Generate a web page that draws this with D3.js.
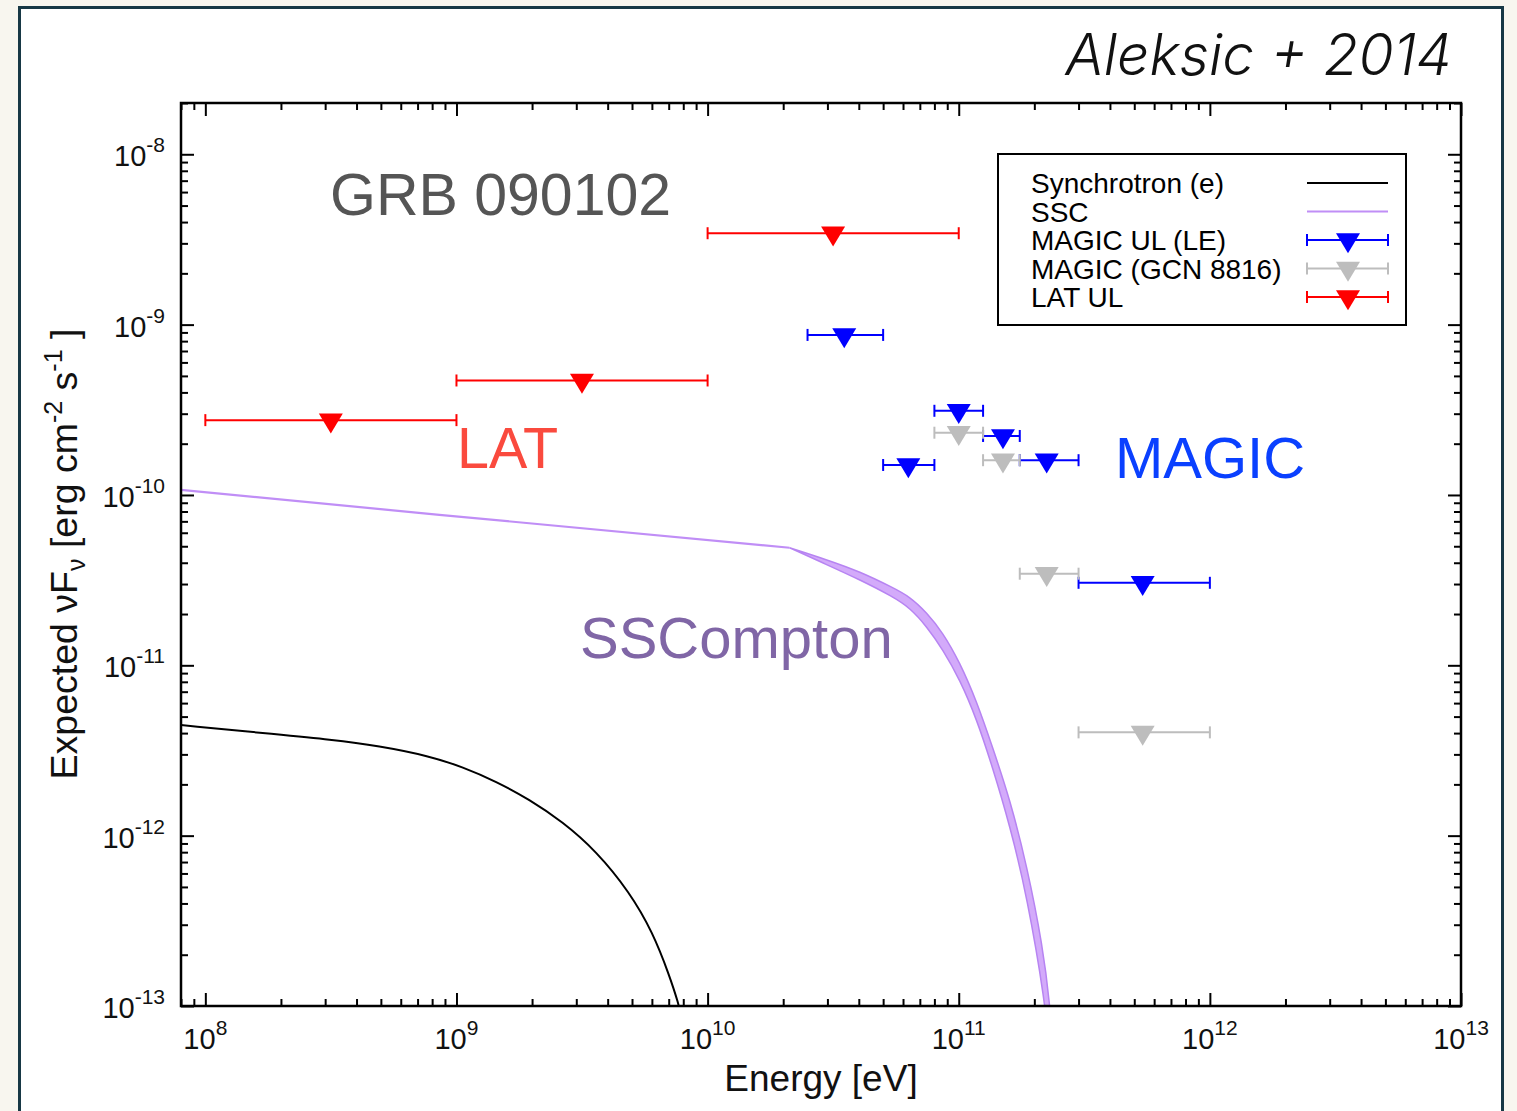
<!DOCTYPE html>
<html>
<head>
<meta charset="utf-8">
<script src="https://cdn.jsdelivr.net/npm/d3@7"></script>
<style>
  html, body { margin: 0; padding: 0; background: #f8f6ef; }
  svg { display: block; }
  text { font-family: "Liberation Sans", Arial, Helvetica, sans-serif; }
</style>
</head>
<body>
<svg id="chart" width="1517" height="1111"></svg>
<script>
const W = 1517, H = 1111;

// axis ranges
const xDomain = [8e7, 1e13];
const yDomain = [1e-13, 2e-8];
const xDecades = [8, 9, 10, 11, 12, 13];
const yDecades = [-8, -9, -10, -11, -12, -13];

// Synchrotron (e) model curve [E (eV), nuFnu]
const synchrotron = [
  [8e7, 4.46e-12], [1.97e8, 3.92e-12], [3.12e8, 3.67e-12], [4.93e8, 3.36e-12],
  [7.8e8, 2.93e-12], [1.06e9, 2.53e-12], [1.44e9, 2.08e-12], [1.95e9, 1.63e-12],
  [2.64e9, 1.21e-12], [3.61e9, 8.1e-13], [4.89e9, 4.66e-13], [6.04e9, 2.72e-13],
  [7.06e9, 1.5e-13], [7.66e9, 1.03e-13], [7.8e9, 9e-14]
];

// SSC: power law part, then the band (upper / lower edge)
const sscLow = [[8e7, 1.07e-10], [8.55e8, 7.65e-11], [2.12e10, 4.9e-11]];
const sscUpper = [
  [2.12e10, 4.9e-11], [2.98e10, 4.17e-11], [4.04e10, 3.55e-11], [5.46e10, 2.86e-11],
  [6.38e10, 2.53e-11], [7.46e10, 2.04e-11], [8.63e10, 1.56e-11], [1.01e11, 1.04e-11],
  [1.18e11, 6.12e-12], [1.36e11, 3.34e-12], [1.60e11, 1.63e-12], [1.87e11, 6.62e-13],
  [2.16e11, 2.25e-13], [2.31e11, 1.0e-13], [2.36e11, 6e-14]
];
const sscLower = [
  [2.12e10, 4.9e-11], [2.98e10, 3.9e-11], [4.04e10, 3.18e-11], [5.46e10, 2.53e-11],
  [6.38e10, 2.18e-11], [7.46e10, 1.69e-11], [8.63e10, 1.24e-11], [1.01e11, 8.26e-12],
  [1.18e11, 4.81e-12], [1.36e11, 2.55e-12], [1.60e11, 1.14e-12], [1.87e11, 4.42e-13],
  [2.22e11, 1.0e-13], [2.27e11, 6e-14]
];

// upper limits: e = marker energy, lo/hi = energy bin, f = flux
const magicLE = [
  {e: 3.5e10, lo: 2.5e10, hi: 5e10, f: 8.7e-10},
  {e: 6.3e10, lo: 5e10, hi: 8e10, f: 1.5e-10},
  {e: 1e11, lo: 8e10, hi: 1.25e11, f: 3.12e-10},
  {e: 1.5e11, lo: 1.25e11, hi: 1.75e11, f: 2.22e-10},
  {e: 2.24e11, lo: 1.75e11, hi: 3e11, f: 1.6e-10},
  {e: 5.4e11, lo: 3e11, hi: 1e12, f: 3.05e-11}
];
const magicGCN = [
  {e: 1e11, lo: 8e10, hi: 1.25e11, f: 2.32e-10},
  {e: 1.5e11, lo: 1.25e11, hi: 1.75e11, f: 1.6e-10},
  {e: 2.24e11, lo: 1.75e11, hi: 3e11, f: 3.45e-11},
  {e: 5.4e11, lo: 3e11, hi: 1e12, f: 4.04e-12}
];
const latUL = [
  {e: 3.16e8, lo: 1e8, hi: 1e9, f: 2.75e-10},
  {e: 3.16e9, lo: 1e9, hi: 1e10, f: 4.7e-10},
  {e: 3.16e10, lo: 1e10, hi: 1e11, f: 3.44e-9}
];

const legendLabels = ["Synchrotron (e)", "SSC", "MAGIC UL (LE)", "MAGIC (GCN 8816)", "LAT UL"];

const colSync = "#000000", colSSC = "#c08ef6", colBand = "#d3aafa", colBandEdge = "#b784f2";
const colBlue = "#0000ff", colGrey = "#bdbdbd", colRed = "#ff0000";

const pLeft = 181, pRight = 1461, pTop = 103, pBottom = 1006;

const x = d3.scaleLog().domain(xDomain).range([pLeft, pRight]);
const y = d3.scaleLog().domain(yDomain).range([pBottom, pTop]);

const svg = d3.select("#chart");

// card background
svg.append("rect").attr("width", W).attr("height", H).attr("fill", "#f8f6ef");
svg.append("rect")
  .attr("x", 19.5).attr("y", 7.5).attr("width", 1483).attr("height", 1120)
  .attr("fill", "#ffffff").attr("stroke", "#173845").attr("stroke-width", 3);

svg.append("defs").append("clipPath").attr("id", "plotclip")
  .append("rect").attr("x", pLeft).attr("y", pTop).attr("width", pRight - pLeft).attr("height", pBottom - pTop);

// ticks (inward, mirrored)
let majorX = xDecades.map(d => Math.pow(10, d));
let minorX = [];
for (let d = 7; d < 13; d++) for (let m = 2; m <= 9; m++) {
  let v = m * Math.pow(10, d);
  if (v >= xDomain[0] && v <= xDomain[1]) minorX.push(v);
}
let majorY = yDecades.map(d => Math.pow(10, d));
let minorY = [];
for (let d = -13; d < -8; d++) for (let m = 2; m <= 9; m++) minorY.push(m * Math.pow(10, d));
minorY.push(2e-8);

function tickAxis(axisFn, scale, vals, len, tx, ty) {
  let g = svg.append("g").attr("transform", "translate(" + tx + "," + ty + ")")
    .call(axisFn(scale).tickValues(vals).tickSize(len).tickFormat(""));
  g.select(".domain").remove();
  g.selectAll("line").attr("stroke", "#000").attr("stroke-width", 2);
}
tickAxis(d3.axisBottom, x, majorX, -13, 0, pBottom);
tickAxis(d3.axisBottom, x, minorX, -7, 0, pBottom);
tickAxis(d3.axisTop, x, majorX, -13, 0, pTop);
tickAxis(d3.axisTop, x, minorX, -7, 0, pTop);
tickAxis(d3.axisLeft, y, majorY, -13, pLeft, 0);
tickAxis(d3.axisLeft, y, minorY, -7, pLeft, 0);
tickAxis(d3.axisRight, y, majorY, -13, pRight, 0);
tickAxis(d3.axisRight, y, minorY, -7, pRight, 0);

// tick labels 10^n
xDecades.forEach(function(d) {
  let t = svg.append("text").attr("x", x(Math.pow(10, d))).attr("y", pBottom + 43)
    .attr("text-anchor", "middle").attr("font-size", 29).attr("fill", "#111");
  t.append("tspan").text("10");
  t.append("tspan").attr("dy", -14).attr("font-size", 21).text(d);
});
yDecades.forEach(function(d) {
  let t = svg.append("text").attr("x", 165).attr("y", y(Math.pow(10, d)) + 12)
    .attr("text-anchor", "end").attr("font-size", 29).attr("fill", "#111");
  t.append("tspan").text("10");
  t.append("tspan").attr("dy", -14).attr("font-size", 21).text(d);
});

// axis titles
svg.append("text").attr("x", 821).attr("y", 1091).attr("text-anchor", "middle")
  .attr("font-size", 37).attr("fill", "#111").text("Energy [eV]");

let yl = svg.append("text").attr("transform", "translate(77,554) rotate(-90)")
  .attr("text-anchor", "middle").attr("font-size", 37.5).attr("fill", "#111");
yl.append("tspan").text("Expected \u03bdF");
yl.append("tspan").attr("dy", 8).attr("font-size", 25).text("\u03bd");
yl.append("tspan").attr("dy", -8).text(" [erg cm");
yl.append("tspan").attr("dy", -15).attr("font-size", 25).text("-2");
yl.append("tspan").attr("dy", 15).text(" s");
yl.append("tspan").attr("dy", -15).attr("font-size", 25).text("-1");
yl.append("tspan").attr("dy", 15).text(" ]");

// curves
const plot = svg.append("g").attr("clip-path", "url(#plotclip)");
const line = d3.line().x(d => x(d[0])).y(d => y(d[1])).curve(d3.curveBasis);
const straight = d3.line().x(d => x(d[0])).y(d => y(d[1]));

plot.append("path").attr("d", line(synchrotron))
  .attr("fill", "none").attr("stroke", colSync).attr("stroke-width", 2);

plot.append("path").attr("d", straight(sscLow))
  .attr("fill", "none").attr("stroke", colSSC).attr("stroke-width", 2.2);

let bandPath = line(sscUpper) + "L" + line(sscLower.slice().reverse()).slice(1) + "Z";
plot.append("path").attr("d", bandPath)
  .attr("fill", colBand).attr("stroke", colBandEdge).attr("stroke-width", 1.5);

// upper-limit markers
const tri = "M-12,-6.7L12,-6.7L0,13.3Z";

function drawUL(data, col) {
  let g = plot.append("g");
  data.forEach(function(d) {
    let cy = y(d.f), x0 = x(d.lo), x1 = x(d.hi);
    g.append("line").attr("x1", x0).attr("x2", x1).attr("y1", cy).attr("y2", cy)
      .attr("stroke", col).attr("stroke-width", 2);
    [x0, x1].forEach(function(cx) {
      g.append("line").attr("x1", cx).attr("x2", cx).attr("y1", cy - 6).attr("y2", cy + 6)
        .attr("stroke", col).attr("stroke-width", 2);
    });
    g.append("path").attr("d", tri).attr("transform", "translate(" + x(d.e) + "," + cy + ")")
      .attr("fill", col);
  });
}
drawUL(magicLE, colBlue);
drawUL(magicGCN, colGrey);
drawUL(latUL, colRed);

// plot frame
svg.append("rect").attr("x", pLeft).attr("y", pTop).attr("width", pRight - pLeft).attr("height", pBottom - pTop)
  .attr("fill", "none").attr("stroke", "#000").attr("stroke-width", 2.5);

// legend
const lg = svg.append("g");
lg.append("rect").attr("x", 998).attr("y", 154).attr("width", 408).attr("height", 171)
  .attr("fill", "#fff").attr("stroke", "#000").attr("stroke-width", 2);
legendLabels.forEach(function(lab, i) {
  let by = 193 + i * 28.5, cy = by - 10;
  lg.append("text").attr("x", 1031).attr("y", by).attr("font-size", 28).attr("fill", "#000").text(lab);
  if (i < 2) {
    lg.append("line").attr("x1", 1307).attr("x2", 1388).attr("y1", cy).attr("y2", cy)
      .attr("stroke", i == 0 ? colSync : colSSC).attr("stroke-width", 2);
  } else {
    let col = [colBlue, colGrey, colRed][i - 2];
    lg.append("line").attr("x1", 1307).attr("x2", 1388).attr("y1", cy).attr("y2", cy)
      .attr("stroke", col).attr("stroke-width", 2);
    [1307, 1388].forEach(function(cx) {
      lg.append("line").attr("x1", cx).attr("x2", cx).attr("y1", cy - 6).attr("y2", cy + 6)
        .attr("stroke", col).attr("stroke-width", 2);
    });
    lg.append("path").attr("d", tri).attr("transform", "translate(1348," + cy + ")").attr("fill", col);
  }
});

// annotations
svg.append("text").attr("x", 330).attr("y", 215).attr("font-size", 59).attr("fill", "#555555").text("GRB 090102");
svg.append("text").attr("x", 457).attr("y", 468).attr("font-size", 57.5).attr("fill", "#fa4a3e").text("LAT");
svg.append("text").attr("x", 1115).attr("y", 478).attr("font-size", 58).attr("fill", "#0a40ff").text("MAGIC");
svg.append("text").attr("x", 580).attr("y", 658).attr("font-size", 58).attr("fill", "#8066a6").text("SSCompton");
svg.append("text").attr("x", 1452).attr("y", 75).attr("text-anchor", "end")
  .attr("font-size", 57).attr("font-style", "italic").attr("font-weight", 300).attr("fill", "#111")
  .style("font-family", "Inter, 'Open Sans', sans-serif").text("Aleksic + 2014");
</script>
</body>
</html>
